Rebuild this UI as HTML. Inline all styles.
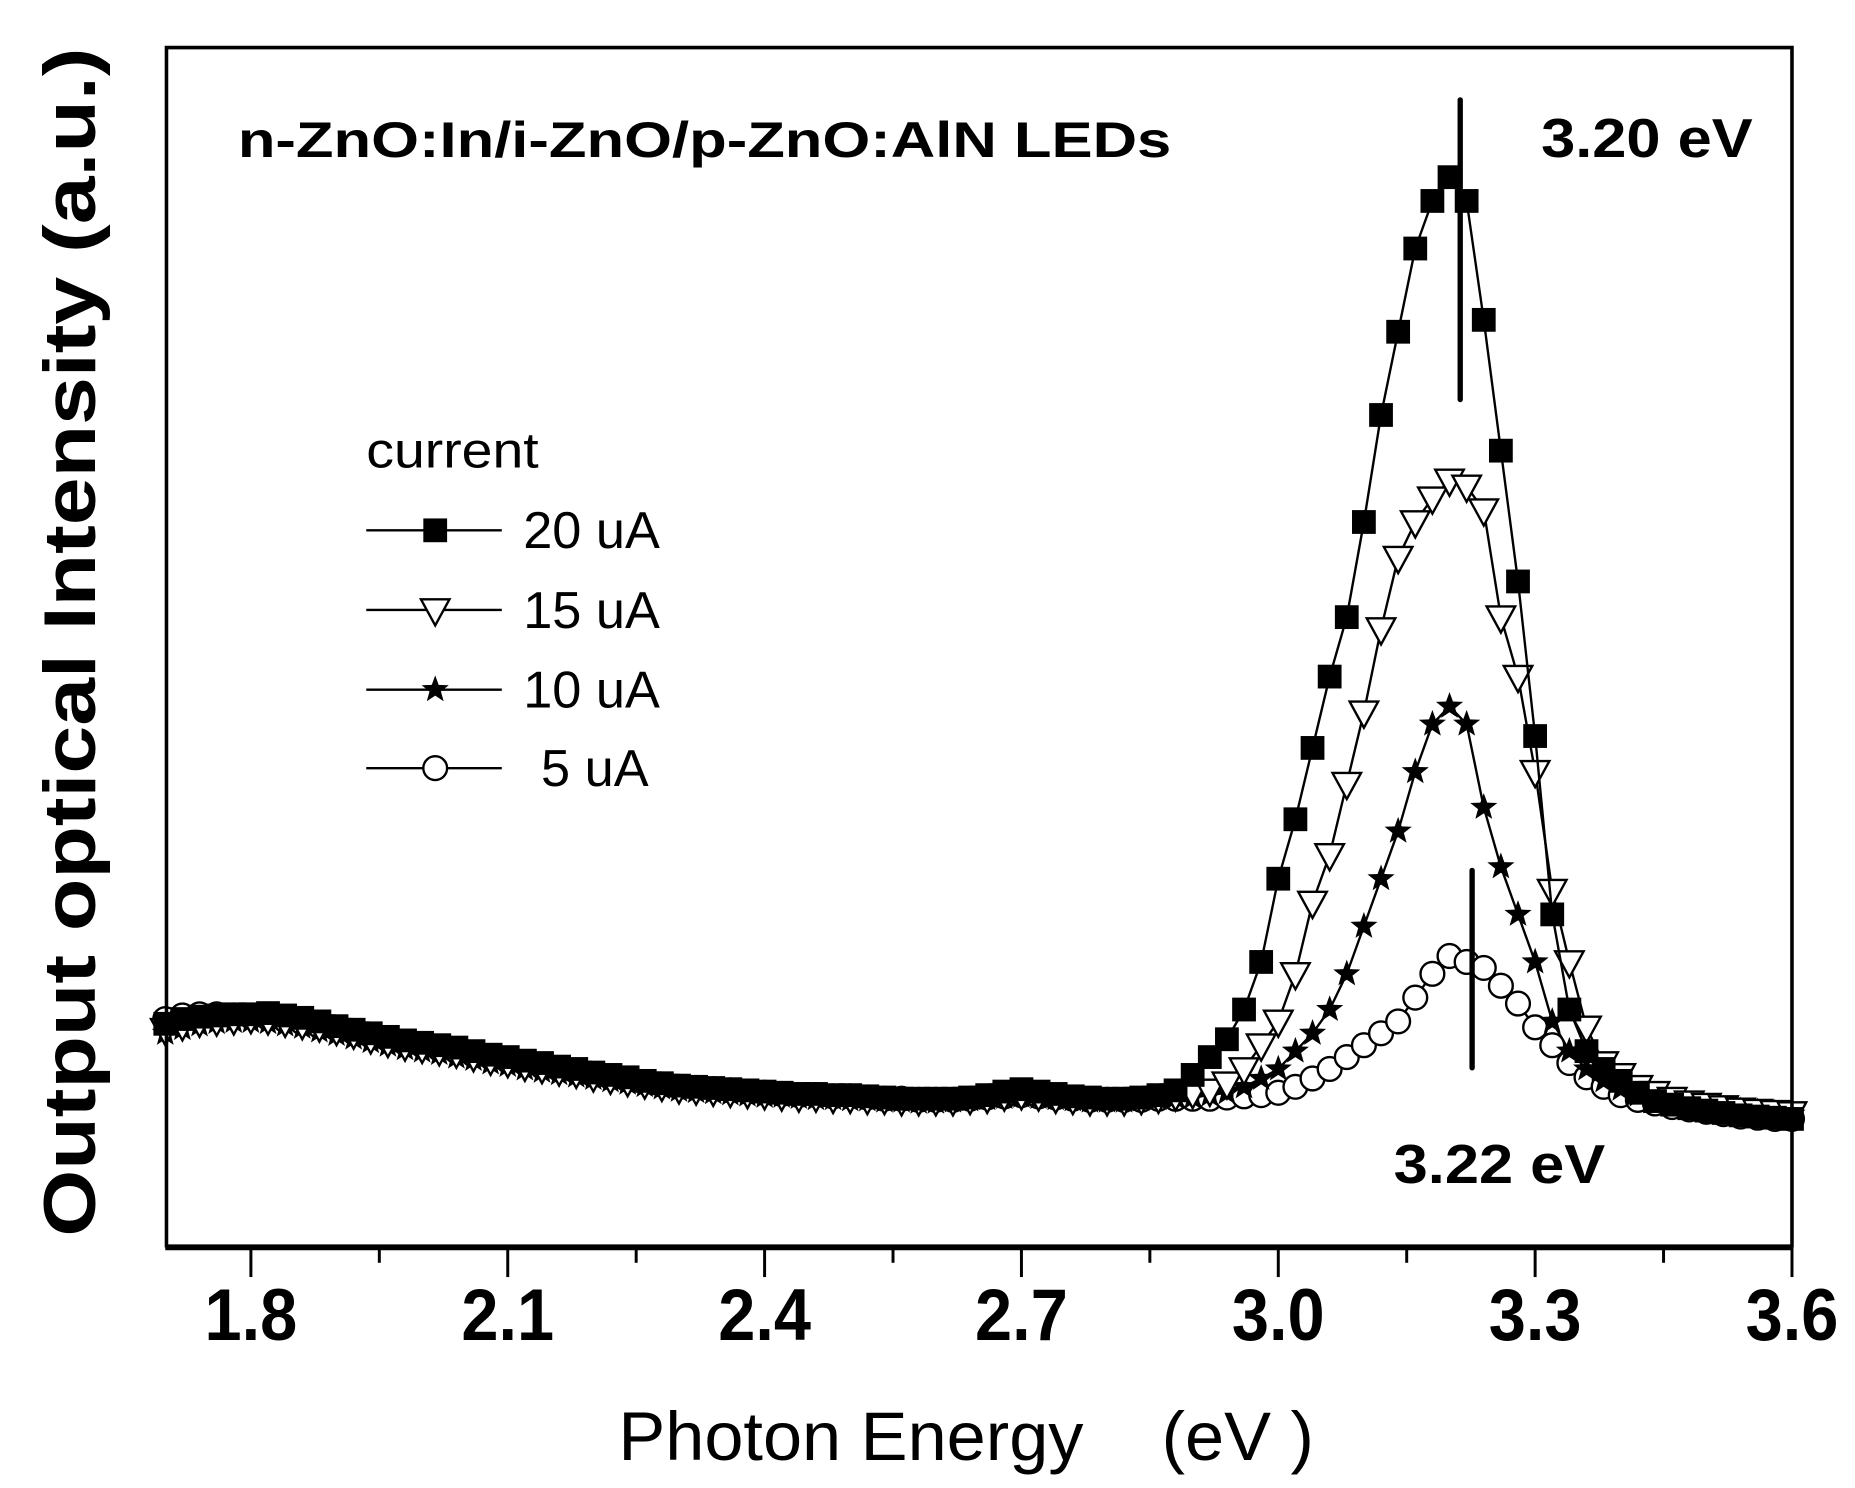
<!DOCTYPE html>
<html><head><meta charset="utf-8"><style>
html,body{margin:0;padding:0;background:#fff}
svg{display:block}
text{font-family:"Liberation Sans",Arial,sans-serif;fill:#000}
</style></head><body>
<svg id="chart" xmlns="http://www.w3.org/2000/svg" width="1855" height="1488" viewBox="0 0 1560 1251.4" preserveAspectRatio="none">
<g id="marks"></g>
<g id="axes"></g>
<text x="200" y="132" font-size="42" font-weight="bold" textLength="785" lengthAdjust="spacingAndGlyphs">n-ZnO:In/i-ZnO/p-ZnO:AlN LEDs</text>
<text x="1296" y="132" font-size="46" font-weight="bold" textLength="178" lengthAdjust="spacingAndGlyphs">3.20 eV</text>
<text x="1172" y="995" font-size="46" font-weight="bold" textLength="178" lengthAdjust="spacingAndGlyphs">3.22 eV</text>
<line x1="1228" y1="84" x2="1228" y2="336" stroke="#000" stroke-width="4.5" stroke-linecap="round"/>
<line x1="1238" y1="732" x2="1238" y2="898" stroke="#000" stroke-width="4.5" stroke-linecap="round"/>
<text x="520" y="1228" font-size="58" textLength="585" lengthAdjust="spacingAndGlyphs" xml:space="preserve">Photon Energy    (eV )</text>
<text transform="translate(80,1040) rotate(-90)" x="0" y="0" font-size="62" font-weight="bold" textLength="1000" lengthAdjust="spacingAndGlyphs">Output optical Intensity (a.u.)</text>
<g id="legend">
<text x="308" y="393" font-size="42" textLength="145" lengthAdjust="spacingAndGlyphs">current</text>
</g>
</svg>
<script>
const energies=[1.70,1.72,1.74,1.76,1.78,1.80,1.82,1.84,1.86,1.88,1.90,1.92,1.94,1.96,1.98,2.00,2.02,2.04,2.06,2.08,2.10,2.12,2.14,2.16,2.18,2.20,2.22,2.24,2.26,2.28,2.30,2.32,2.34,2.36,2.38,2.40,2.42,2.44,2.46,2.48,2.50,2.52,2.54,2.56,2.58,2.60,2.62,2.64,2.66,2.68,2.70,2.72,2.74,2.76,2.78,2.80,2.82,2.84,2.86,2.88,2.90,2.92,2.94,2.96,2.98,3.00,3.02,3.04,3.06,3.08,3.10,3.12,3.14,3.16,3.18,3.20,3.22,3.24,3.26,3.28,3.30,3.32,3.34,3.36,3.38,3.40,3.42,3.44,3.46,3.48,3.50,3.52,3.54,3.56,3.58,3.60];
const i20=[18.8,19.2,19.4,19.5,19.6,19.6,19.7,19.5,19.3,19.0,18.6,18.3,18.0,17.7,17.4,17.2,17.0,16.8,16.5,16.2,16.0,15.7,15.5,15.2,15.0,14.7,14.5,14.3,14.0,13.8,13.6,13.5,13.4,13.3,13.2,13.1,13.0,12.9,12.9,12.8,12.8,12.7,12.6,12.5,12.5,12.5,12.5,12.6,12.8,13.1,13.3,13.1,12.9,12.7,12.6,12.5,12.5,12.6,12.8,13.2,14.5,16,17.5,20,24,31,36,42,48,53,61,70,77,84,88,90,88,78,67,56,43,28,20,16.5,15,14,13,12.3,12,11.7,11.5,11.3,11.1,11,10.9,10.8];
const i15=[18.3,18.7,19.0,19.1,19.2,19.3,19.2,19.0,18.8,18.6,18.3,18.0,17.6,17.3,17.0,16.8,16.6,16.4,16.1,15.8,15.6,15.3,15.1,14.9,14.7,14.4,14.2,14.0,13.8,13.6,13.4,13.3,13.2,13.1,13.0,12.9,12.8,12.7,12.7,12.6,12.6,12.5,12.5,12.4,12.4,12.4,12.4,12.5,12.6,12.8,12.9,12.8,12.6,12.5,12.4,12.4,12.4,12.5,12.6,12.8,13.0,13.2,13.8,15,17,19,23,29,33,39,45,52,58,61,63,64.5,64,62,53,48,40,30,24,18.5,15.5,14.5,13.5,13,12.5,12.2,12,11.8,11.6,11.5,11.4,11.3];
const i10=[18.0,18.4,18.7,18.9,19.0,19.0,18.9,18.7,18.5,18.2,17.9,17.6,17.3,17.0,16.7,16.5,16.3,16.0,15.8,15.5,15.3,15.0,14.8,14.6,14.4,14.2,14.0,13.8,13.6,13.4,13.2,13.1,13.0,12.9,12.8,12.7,12.7,12.6,12.5,12.5,12.4,12.4,12.3,12.3,12.2,12.2,12.3,12.4,12.5,12.6,12.7,12.6,12.5,12.4,12.3,12.3,12.3,12.4,12.5,12.6,12.6,12.8,13,13.5,14.2,15,16.5,18,20,23,27,31,35,40,44,45.5,44,37,32,28,24,19,16.5,15,14,13.3,12.8,12.4,12.2,12,11.8,11.6,11.5,11.4,11.3,11.2];
const i5=[19.2,19.5,19.6,19.6,19.5,19.4,19.3,19.1,18.9,18.6,18.4,18.1,17.8,17.5,17.2,17.0,16.7,16.5,16.2,16.0,15.7,15.5,15.2,15.0,14.8,14.5,14.3,14.1,13.9,13.7,13.5,13.4,13.3,13.2,13.1,13.0,12.9,12.8,12.8,12.7,12.7,12.6,12.5,12.5,12.4,12.4,12.4,12.5,12.6,12.7,12.8,12.7,12.6,12.5,12.4,12.4,12.4,12.4,12.5,12.5,12.5,12.5,12.6,12.7,12.8,13,13.5,14.2,15,16,17,18,19,21,23,24.5,24,23.5,22,20.5,18.5,17,15.5,14.3,13.5,12.8,12.4,12.1,11.8,11.6,11.4,11.2,11,10.9,10.8,10.8];
const seriesNames=["20 uA","15 uA","10 uA","5 uA"];
const majorTicks=[1.8,2.1,2.4,2.7,3.0,3.3,3.6];
const tickLabels=["1.8","2.1","2.4","2.7","3.0","3.3","3.6"];
const minorTicks=[1.95,2.25,2.55,2.85,3.15,3.45];

const NS="http://www.w3.org/2000/svg";
const L=140,R=1507,T=40,B=1049;
function xs(e){return 211+(e-1.8)*720;}
function ys(v){return B-v*10;}
function mk(tag,attrs,parent){const el=document.createElementNS(NS,tag);for(const k in attrs)el.setAttribute(k,attrs[k]);parent.appendChild(el);return el;}

function marker(kind,cx,cy,parent){
  let el;
  if(kind==="square"){el=mk("rect",{x:cx-10,y:cy-10,width:20,height:20,fill:"#000"},parent);}
  else if(kind==="tri"){el=mk("polygon",{points:`${cx-12},${cy-9} ${cx+12},${cy-9} ${cx},${cy+13}`,fill:"#fff",stroke:"#000","stroke-width":2},parent);}
  else if(kind==="star"){let p=[];for(let k=0;k<10;k++){const r=k%2?5:12;const a=-Math.PI/2+k*Math.PI/5;p.push((cx+r*Math.cos(a)).toFixed(1)+","+(cy+r*Math.sin(a)).toFixed(1));}
    el=mk("polygon",{points:p.join(" "),fill:"#000"},parent);}
  else {el=mk("circle",{cx:cx,cy:cy,r:10,fill:"#fff",stroke:"#000","stroke-width":2},parent);}
  return el;
}

const marks=document.getElementById("marks");
const allSeries=[[i5,"circle","5ua"],[i10,"star","10ua"],[i15,"tri","15ua"],[i20,"square","20ua"]];
allSeries.forEach(([vals,kind,id])=>{
  const g=mk("g",{},marks);
  
  
  const d=vals.map((v,i)=>(i?"L":"M")+xs(energies[i]).toFixed(1)+","+ys(v).toFixed(1)).join(" ");
  const line=mk("path",{d:d,fill:"none",stroke:"#000","stroke-width":2},g);
  
  
  vals.forEach((v,i)=>{
    const m=marker(kind,xs(energies[i]),ys(v),g);
    
    
  });
});

const axes=document.getElementById("axes");
const frame=mk("path",{d:`M${L},${B} L${L},${T} L${R},${T} L${R},${B}`,fill:"none",stroke:"#000","stroke-width":3},axes);


const xa=mk("line",{x1:L-1,y1:B,x2:R+1,y2:B,stroke:"#000","stroke-width":5},axes);


majorTicks.forEach((e,i)=>{
  const t=mk("line",{x1:xs(e),y1:B,x2:xs(e),y2:B+25,stroke:"#000","stroke-width":2.5},axes);
  
  
  const lb=mk("text",{x:xs(e),y:1127,"font-size":62,"font-weight":"bold","text-anchor":"middle",textLength:78,lengthAdjust:"spacingAndGlyphs"},axes);
  lb.textContent=tickLabels[i];
  
  
});
minorTicks.forEach(e=>{
  const t=mk("line",{x1:xs(e),y1:B,x2:xs(e),y2:B+13,stroke:"#000","stroke-width":2.5},axes);
  
  
});

const legend=document.getElementById("legend");
const legKinds=["square","tri","star","circle"];
const legY=[446,513,580,646];
seriesNames.forEach((n,i)=>{
  const g=mk("g",{},legend);
  
  
  mk("line",{x1:308,y1:legY[i],x2:422,y2:legY[i],stroke:"#000","stroke-width":2},g);
  marker(legKinds[i],366,legY[i],g);
  const t=mk("text",{x:n.length<5?455:440,y:legY[i]+15,"font-size":44},g);
  t.textContent=n;
});
</script>
</body></html>
